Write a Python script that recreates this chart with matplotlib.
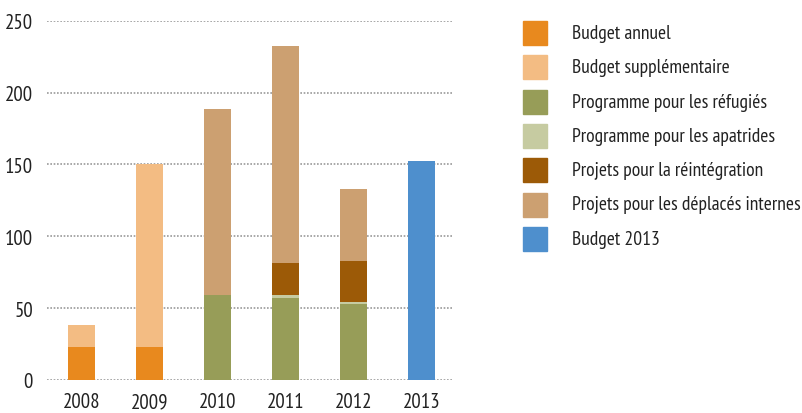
import matplotlib
matplotlib.use("Agg")
import matplotlib.pyplot as plt
from matplotlib import font_manager
from matplotlib.patches import Rectangle
import numpy as np

# pick a condensed face if one is around, otherwise plain Liberation Sans
installed = set(f.name for f in font_manager.fontManager.ttflist)
narrow = None
for cand in ["PT Sans Narrow", "Roboto Condensed", "Archivo Narrow",
             "Fira Sans Condensed", "Liberation Sans Narrow"]:
    if cand in installed:
        narrow = cand
        break
if narrow:
    plt.rcParams['font.family'] = [narrow, 'DejaVu Sans']
    FS_TICK, FS_LEG = 15, 14
else:
    plt.rcParams['font.family'] = ['Liberation Sans', 'DejaVu Sans']
    FS_TICK, FS_LEG = 12, 11

years = ["2008", "2009", "2010", "2011", "2012", "2013"]

# stacked segments, bottom to top
budget_annuel = [23, 23, 0, 0, 0, 0]
budget_supp = [15.3, 127, 0, 0, 0, 0]
refugies = [0, 0, 59.2, 57, 52.9, 0]
apatrides = [0, 0, 0, 2.2, 1.4, 0]
reintegration = [0, 0, 0, 22.2, 28.5, 0]
deplaces = [0, 0, 129.4, 151, 50.1, 0]
budget_2013 = [0, 0, 0, 0, 0, 152.4]

series = [
    ("Budget annuel", budget_annuel, "#E8891E"),
    ("Budget supplémentaire", budget_supp, "#F3BC83"),
    ("Programme pour les réfugiés", refugies, "#979D58"),
    ("Programme pour les apatrides", apatrides, "#C6CBA1"),
    ("Projets pour la réintégration", reintegration, "#9C5A07"),
    ("Projets pour les déplacés internes", deplaces, "#CCA071"),
    ("Budget 2013", budget_2013, "#4E8FCD"),
]

W, H = 803, 414
fig = plt.figure(figsize=(W / 100, H / 100), dpi=100)
ax = fig.add_axes([47 / W, 33 / H, 406 / W, (381 - 21.7) / H])

x = np.arange(len(years))
bottom = np.zeros(len(years))
for name, vals, col in series:
    vals = np.array(vals, dtype=float)
    ax.bar(x, vals, 0.4, bottom=bottom, color=col, zorder=3)
    bottom += vals

ax.set_ylim(0, 250)
ax.set_xlim(-0.507, 5.46)
ax.set_yticks([0, 50, 100, 150, 200, 250])
ax.set_xticks(x)
ax.set_xticklabels(years)
ax.yaxis.grid(True, linestyle=(0, (1, 1)), color="#9a9a9a", linewidth=1.2, zorder=0)
ax.set_axisbelow(True)
for s in ax.spines.values():
    s.set_visible(False)
ax.tick_params(length=0, labelsize=FS_TICK, colors="#222222")
ax.tick_params(axis="y", pad=10)
ax.tick_params(axis="x", pad=9)

# legend drawn by hand to match spacing
for i, (name, vals, col) in enumerate(series):
    yc = 34 + i * 34.3
    fig.patches.append(Rectangle((523 / W, (H - yc - 12) / H), 24 / W, 24 / H,
                                 transform=fig.transFigure, color=col))
    fig.text(572 / W, (H - yc) / H, name, fontsize=FS_LEG, color="#222222",
             va="center", ha="left")

fig.savefig("out.png", dpi=100)
